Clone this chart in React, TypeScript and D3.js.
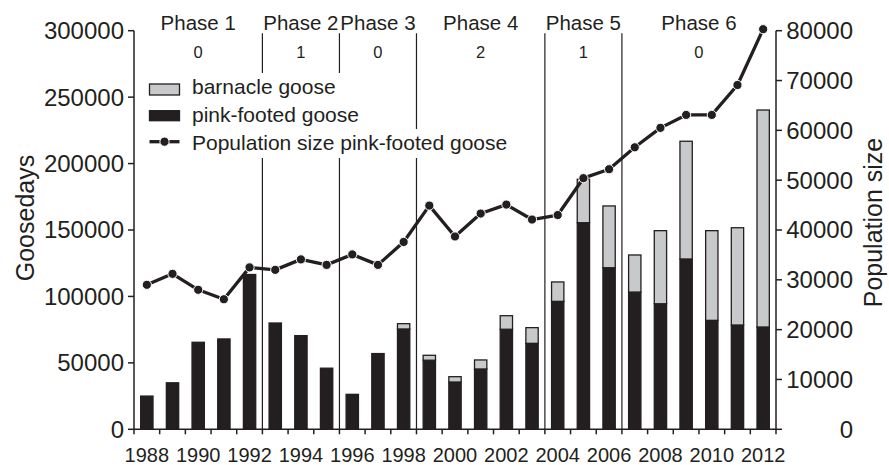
import React from "react";
import * as d3 from "d3";

const years = [1988, 1989, 1990, 1991, 1992, 1993, 1994, 1995, 1996, 1997, 1998, 1999, 2000, 2001, 2002, 2003, 2004, 2005, 2006, 2007, 2008, 2009, 2010, 2011, 2012];
const pinkFooted = [25000, 35000, 65500, 68000, 116500, 80000, 70500, 46000, 26300, 57000, 75500, 52000, 35600, 45400, 75300, 64700, 96300, 155500, 121600, 103300, 94500, 128200, 82000, 78500, 77000];
const barnacle = [0, 0, 0, 0, 0, 0, 0, 0, 0, 0, 4000, 3700, 4000, 6800, 10200, 11800, 14600, 32700, 46500, 27900, 55000, 88600, 67500, 73200, 163300];
const population = [29000, 31200, 28000, 26100, 32500, 32000, 34100, 33000, 35100, 33000, 37600, 44900, 38700, 43300, 45100, 42100, 43000, 50400, 52200, 56600, 60500, 63100, 63100, 69100, 80300];

const phaseNames = ["Phase 1", "Phase 2", "Phase 3", "Phase 4", "Phase 5", "Phase 6"];
const phaseValues = ["0", "1", "0", "2", "1", "0"];
const phaseStart = [1988, 1993, 1996, 1999, 2004, 2007];
const phaseEnd = [1992, 1995, 1998, 2003, 2006, 2012];

const leftTicks = [0, 50000, 100000, 150000, 200000, 250000, 300000];
const rightTicks = [0, 10000, 20000, 30000, 40000, 50000, 60000, 70000, 80000];
const xLabelYears = [1988, 1990, 1992, 1994, 1996, 1998, 2000, 2002, 2004, 2006, 2008, 2010, 2012];

const legendLabels = ["barnacle goose", "pink-footed goose", "Population size pink-footed goose"];

const W = 889, H = 465;
const X0 = 134, X1 = 776, YT = 30.7, YB = 429.3;
const INK = "#231f20";
const GRAY = "#c8c9cb";
const FONT = "'Liberation Sans', Arial, Helvetica, sans-serif";

export default function App() {
  const x = d3.scaleBand<number>().domain(years).range([X0, X1]).paddingInner(0.52).paddingOuter(0.26);
  const step = x.step();
  const bw = x.bandwidth();
  const cx = (yr: number) => (x(yr) as number) + bw / 2;
  const left = (yr: number) => cx(yr) - step / 2;
  const right = (yr: number) => cx(yr) + step / 2;
  const yL = d3.scaleLinear().domain([0, 300000]).range([YB, YT]);
  const yR = d3.scaleLinear().domain([0, 80000]).range([YB, YT]);

  const table = years.map((yr, i) => ({ year: yr, pink: pinkFooted[i], barnacle: barnacle[i] }));
  const stack = d3.stack<any>().keys(["pink", "barnacle"])(table);

  const line = d3.line<number>().x((_, i) => cx(years[i])).y((d) => yR(d));

  const boundaries = [...years.map((yr) => left(yr)), right(years[years.length - 1])];
  const separators = phaseEnd.slice(0, -1).map((yr) => right(yr));

  const legX = 149.5, legSw = 30, legTx = 192;
  const legY = [94, 121.5, 149.5];

  return (
    <svg width={W} height={H} style={{ position: "absolute", left: 0, top: 0, background: "#fff" }} fontFamily={FONT}>
      <rect x={0} y={0} width={W} height={H} fill="#fff" />
      {/* bars */}
      {stack.map((s, si) =>
        s.map((d, i) =>
          d[1] - d[0] > 0 ? (
            <rect
              key={`${si}-${i}`}
              x={x(years[i])}
              y={yL(d[1])}
              width={bw}
              height={yL(d[0]) - yL(d[1])}
              fill={si === 0 ? INK : GRAY}
              stroke={INK}
              strokeWidth={1.3}
            />
          ) : null
        )
      )}
      {/* phase separators */}
      {separators.map((sx, i) => (
        <line key={i} x1={sx} x2={sx} y1={33.3} y2={YB} stroke={INK} strokeWidth={1.2} />
      ))}
      {/* phase labels */}
      {phaseNames.map((p, i) => {
        const a = i === 0 ? X0 : left(phaseStart[i]);
        const b = i === phaseNames.length - 1 ? X1 : right(phaseEnd[i]);
        const m = (a + b) / 2;
        return (
          <g key={p}>
            <text x={m} y={30} textAnchor="middle" fontSize={20.5} fill={INK}>{p}</text>
            <text x={m} y={58} textAnchor="middle" fontSize={16.5} fill={INK}>{phaseValues[i]}</text>
          </g>
        );
      })}
      {/* population line */}
      <path d={line(population) as string} fill="none" stroke={INK} strokeWidth={3.3} strokeLinejoin="round" />
      {population.map((v, i) => (
        <circle key={i} cx={cx(years[i])} cy={yR(v)} r={4.6} fill={INK} stroke="#fff" strokeWidth={1} />
      ))}
      {/* legend masks */}
      <rect x={145} y={73} width={217} height={56} fill="#fff" />
      <rect x={145} y={129} width={368} height={29} fill="#fff" />
      {/* legend */}
      <rect x={legX} y={84} width={legSw} height={11} fill={GRAY} stroke={INK} strokeWidth={1.3} />
      <rect x={legX} y={110.7} width={legSw} height={10} fill={INK} stroke={INK} strokeWidth={1.3} />
      <line x1={legX} x2={legX + legSw} y1={141.7} y2={141.7} stroke={INK} strokeWidth={3.3} />
      <circle cx={legX + legSw / 2} cy={141.7} r={4.6} fill={INK} stroke="#fff" strokeWidth={1} />
      {legendLabels.map((t, i) => (
        <text key={t} x={legTx} y={legY[i]} fontSize={21} fill={INK}>{t}</text>
      ))}
      {/* left axis */}
      <line x1={X0} x2={X0} y1={YT} y2={YB} stroke={INK} strokeWidth={1.5} />
      {leftTicks.map((t) => (
        <g key={t}>
          <line x1={X0 - 6} x2={X0} y1={yL(t)} y2={yL(t)} stroke={INK} strokeWidth={1.5} />
          <text x={124} y={yL(t)} dy="0.35em" textAnchor="end" fontSize={24} fill={INK}>{t}</text>
        </g>
      ))}
      {/* right axis */}
      <line x1={X1} x2={X1} y1={YT} y2={YB} stroke={INK} strokeWidth={1.5} />
      {rightTicks.map((t) => (
        <g key={t}>
          <line x1={X1} x2={X1 + 6} y1={yR(t)} y2={yR(t)} stroke={INK} strokeWidth={1.5} />
          <text x={853} y={yR(t)} dy="0.35em" textAnchor="end" fontSize={24} fill={INK}>{t}</text>
        </g>
      ))}
      {/* x axis */}
      <line x1={X0} x2={X1} y1={YB} y2={YB} stroke={INK} strokeWidth={1.5} />
      {boundaries.map((bx, i) => (
        <line key={i} x1={bx} x2={bx} y1={YB} y2={YB + 5} stroke={INK} strokeWidth={1.5} />
      ))}
      {xLabelYears.map((yr) => (
        <text key={yr} x={cx(yr)} y={461.5} textAnchor="middle" fontSize={20} fill={INK}>{yr}</text>
      ))}
      {/* axis titles */}
      <text transform={`translate(33.5,218) rotate(-90)`} textAnchor="middle" fontSize={25} fill={INK}>Goosedays</text>
      <text transform={`translate(882,222.5) rotate(-90)`} textAnchor="middle" fontSize={25} fill={INK}>Population size</text>
    </svg>
  );
}
